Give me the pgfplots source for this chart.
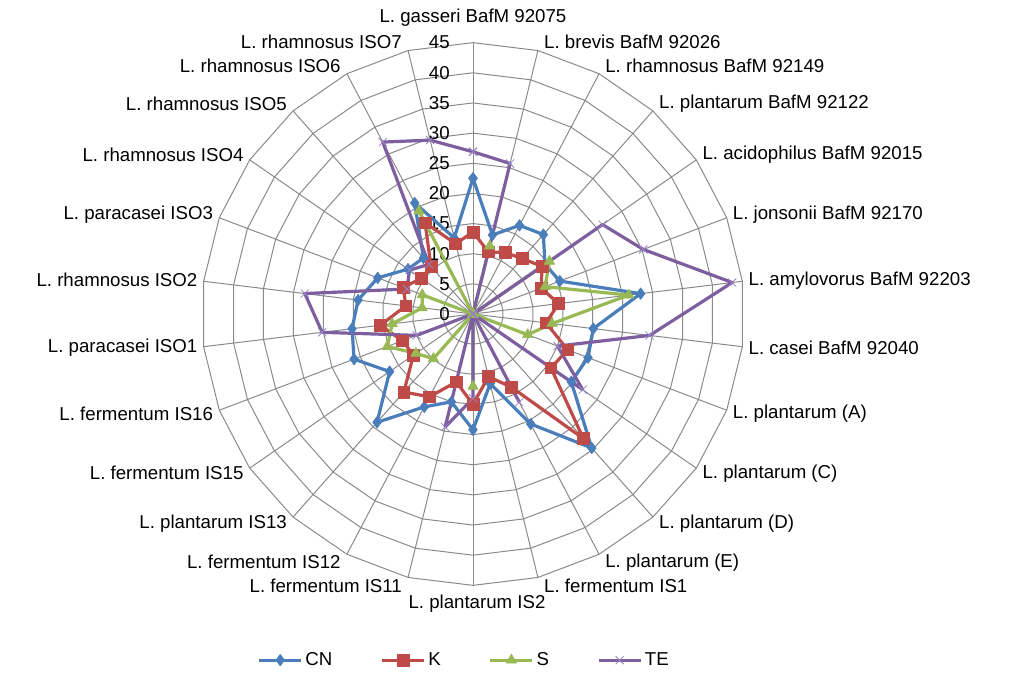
\documentclass[border=0pt]{standalone}
\usepackage{pgfplots}
\pgfplotsset{compat=1.18}
\usepackage{pgfplotstable}
\usepackage{fontspec}
\setmainfont{Liberation Sans}

\definecolor{cCN}{HTML}{4A7EBB}
\definecolor{cK}{HTML}{BE4B48}
\definecolor{cS}{HTML}{98B954}
\definecolor{cTE}{HTML}{7D5FA0}
\definecolor{cTEm}{HTML}{9983C6}
\definecolor{gridc}{HTML}{8A8A8A}

\newcommand\lf{\fontsize{14}{16.5}\selectfont}

\pgfplotstableread{
idx CN K S TE
0 22.5 13.6 0 26.9
1 13.5 10.6 11.6 25.7
2 16.6 11.5 0 0
3 17.6 12.3 0 0
4 14.5 13.9 15.4 26.1
5 15.4 12.1 12.8 30.2
6 28.0 14.3 26.0 43.3
7 20.1 12.2 13.2 29.5
8 20.4 16.8 9.7 15.0
9 19.8 15.7 0 22.1
10 29.7 27.6 0 0
11 20.6 13.7 0 16.5
12 11.9 10.7 0 0
13 19.2 15.0 12.0 14.0
14 15.0 11.6 0 19.3
15 17.4 15.5 0 0
16 24.0 17.3 9.9 0
17 16.8 12.0 11.5 0
18 21.1 12.5 15.2 10.0
19 20.2 15.5 13.5 25.2
20 19.2 11.2 8.5 28.1
21 16.9 12.4 9.0 11.7
22 13.1 10.4 0 12.8
23 12.4 10.5 0 11.0
24 20.8 17.1 19.3 32.2
25 13.0 12.0 0 29.7
26 22.5 13.6 0 26.9
}\radardata

\begin{document}
\begin{tikzpicture}[x=1pt,y=1pt]
\def\u{4.5225}
% grid rings
\foreach \r in {5,10,...,45}{
  \draw[gridc, line width=0.75pt] plot[domain=0:26, samples=27, variable=\k] ({90-\k*360/26}:{\r*\u});
}
% spokes
\foreach \k in {0,...,25}{
  \draw[gridc, line width=0.75pt] (0,0) -- ({90-\k*360/26}:{45*\u});
}
% radial tick labels
\foreach \r in {0,5,...,45}{
  \node[anchor=east, inner sep=0pt, font=\lf] at (-17.25,{\r*\u}) {\r};
}
% category labels
\foreach \k/\name in {0/{L. gasseri BafM 92075},1/{L. brevis BafM 92026},2/{L. rhamnosus BafM 92149},3/{L. plantarum  BafM 92122},4/{L. acidophilus BafM 92015},5/{L. jonsonii BafM 92170},6/{L. amylovorus BafM 92203},7/{L. casei BafM 92040},8/{L. plantarum (A)},9/{L. plantarum (C)},10/{L. plantarum (D)},11/{L. plantarum (E)},12/{L. fermentum IS1},13/{L. plantarum IS2},14/{L. fermentum IS11},15/{L. fermentum IS12},16/{L. plantarum IS13},17/{L. fermentum IS15},18/{L. fermentum IS16},19/{L. paracasei ISO1},20/{L. rhamnosus ISO2},21/{L. paracasei ISO3},22/{L. rhamnosus ISO4},23/{L. rhamnosus ISO5},24/{L. rhamnosus ISO6},25/{L. rhamnosus ISO7}}{
  \pgfmathsetmacro\px{45*\u*cos(90-\k*360/26)}
  \pgfmathsetmacro\py{45*\u*sin(90-\k*360/26)+6.75*cos(\k*360/26)}
  \ifnum\k=0 \def\anc{center}\def\dx{0}\def\py{222}%
  \else\ifnum\k=13 \def\anc{center}\def\dx{3}\def\py{-217.5}%
  \else\ifnum\k<13 \def\anc{west}\def\dx{4.5}%
  \else \def\anc{east}\def\dx{-4.5}\fi\fi\fi
  \node[anchor=\anc, font=\lf, inner sep=0pt] at ({\px+\dx},\py) {\name};
}
\begin{axis}[at={(0,0)}, anchor=origin,
  x=4.5225pt, y=4.5225pt,
  xmin=-45, xmax=45, ymin=-45, ymax=45,
  hide axis, clip=false,
  legend columns=4,
  legend style={at={(axis cs:-1.4,-57.4)}, anchor=center, draw=none, fill=none, font=\lf,
    /tikz/every even column/.append style={column sep=34pt}},
  legend image code/.code={\draw[mark repeat=2,mark phase=2,#1] plot coordinates {(0pt,0pt) (15.75pt,0pt) (31.5pt,0pt)};},
  every axis plot/.append style={line width=2.4pt, line join=round},
]
\addplot[cCN, mark=diamond*, mark size=4.3pt, mark options={solid, line width=0.5pt}]
  table[x expr={\thisrow{CN}*cos(90-\thisrow{idx}*360/26)}, y expr={\thisrow{CN}*sin(90-\thisrow{idx}*360/26)}] {\radardata};
\addlegendentry{CN}
\addplot[cK, mark=square*, mark size=4.4pt, mark options={solid, line width=0.5pt}]
  table[x expr={\thisrow{K}*cos(90-\thisrow{idx}*360/26)}, y expr={\thisrow{K}*sin(90-\thisrow{idx}*360/26)}] {\radardata};
\addlegendentry{K}
\addplot[cS, mark=triangle*, mark size=4.5pt, mark options={solid, line width=0.5pt}]
  table[x expr={\thisrow{S}*cos(90-\thisrow{idx}*360/26)}, y expr={\thisrow{S}*sin(90-\thisrow{idx}*360/26)}] {\radardata};
\addlegendentry{S}
\addplot[cTE, mark=x, mark size=4.3pt, mark options={solid, line width=0.6pt, draw=cTEm}]
  table[x expr={\thisrow{TE}*cos(90-\thisrow{idx}*360/26)}, y expr={\thisrow{TE}*sin(90-\thisrow{idx}*360/26)}] {\radardata};
\addlegendentry{TE}
\end{axis}
\pgfresetboundingbox
\path[use as bounding box] (-354.75,-270.75) rectangle (402.75,235.5);
\end{tikzpicture}
\end{document}
